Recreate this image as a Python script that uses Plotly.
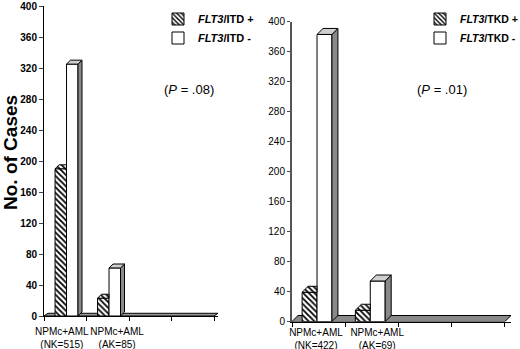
import plotly.graph_objects as go

# ---------------- data ----------------
categories_left = ["NPMc+AML<br>(NK=515)", "NPMc+AML<br>(AK=85)"]
itd_pos = [190, 23]
itd_neg = [325, 62]

categories_right = ["NPMc+AML<br>(NK=422)", "NPMc+AML<br>(AK=69)"]
tkd_pos = [39, 15]
tkd_neg = [383, 54]

y_ticks = [0, 40, 80, 120, 160, 200, 240, 280, 320, 360, 400]
slot_ticks = [0, 1, 2, 3, 4]

FONT = "Liberation Sans, Arial, sans-serif"
GREY_SIDE = "#8a8a8a"
GREY_TOP = "#cfcfcf"

fig = go.Figure()

# per-panel geometry (style constants)
panels = [
    dict(ax="x", ay="y", legend="legend", cats=categories_left,
         pos=itd_pos, neg=itd_neg, names=["<i>FLT3</i>/ITD +", "<i>FLT3</i>/ITD -"],
         off_pos=0.26, off_neg=0.53, w=0.27, dx=0.094, dy=5.1, floor_dy=3.5,
         label_x=[0.42, 1.72], floor_col="#9a9a9a"),
    dict(ax="x2", ay="y2", legend="legend2", cats=categories_right,
         pos=tkd_pos, neg=tkd_neg, names=["<i>FLT3</i>/TKD +", "<i>FLT3</i>/TKD -"],
         off_pos=0.19, off_neg=0.47, w=0.28, dx=0.113, dy=8.0, floor_dy=8.0,
         label_x=[0.45, 1.6], floor_col="#8a8a8a"),
]

shapes = []
for p in panels:
    idx = list(range(len(p["cats"])))
    # front faces of bars
    fig.add_trace(go.Bar(
        x=idx, y=p["pos"], offset=p["off_pos"], width=p["w"], base=0,
        name=p["names"][0], legend=p["legend"], xaxis=p["ax"], yaxis=p["ay"],
        marker=dict(color="white", line=dict(color="black", width=1),
                    pattern=dict(shape="\\", fgcolor="black", bgcolor="white",
                                 size=4, solidity=0.45)),
    ))
    fig.add_trace(go.Bar(
        x=idx, y=p["neg"], offset=p["off_neg"], width=p["w"], base=0,
        name=p["names"][1], legend=p["legend"], xaxis=p["ax"], yaxis=p["ay"],
        marker=dict(color="white", line=dict(color="black", width=1)),
    ))
    dx, dy = p["dx"], p["dy"]
    # 3D top of hatched bars (right part hidden behind white bar)
    for i, v in zip(idx, p["pos"]):
        x0 = i + p["off_pos"]
        x1 = x0 + p["w"]
        fig.add_trace(go.Scatter(
            x=[x0, x0 + dx, x1, x1, x0], y=[v, v + dy, v + dy, v, v],
            mode="lines", fill="toself", line=dict(color="black", width=1),
            fillcolor="white",
            fillpattern=dict(shape="\\", fgcolor="black", bgcolor="white", size=4, solidity=0.45),
            showlegend=False, hoverinfo="skip", xaxis=p["ax"], yaxis=p["ay"]))
    # 3D side + top of white bars
    for i, v in zip(idx, p["neg"]):
        x0 = i + p["off_neg"]
        x1 = x0 + p["w"]
        fig.add_trace(go.Scatter(
            x=[x1, x1 + dx, x1 + dx, x1, x1], y=[0, dy, v + dy, v, 0],
            mode="lines", fill="toself", fillcolor=GREY_SIDE,
            line=dict(color="black", width=1),
            showlegend=False, hoverinfo="skip", xaxis=p["ax"], yaxis=p["ay"]))
        fig.add_trace(go.Scatter(
            x=[x0, x0 + dx, x1 + dx, x1, x0], y=[v, v + dy, v + dy, v, v],
            mode="lines", fill="toself", fillcolor=GREY_TOP,
            line=dict(color="black", width=1),
            showlegend=False, hoverinfo="skip", xaxis=p["ax"], yaxis=p["ay"]))
    # floor
    n = slot_ticks[-1]
    fd = p["floor_dy"]
    shapes.append(dict(
        type="path", xref=p["ax"], yref=p["ay"], layer="below",
        path=f"M0,0 L{n},0 L{n + dx},{fd} L{dx},{fd} Z",
        fillcolor=p["floor_col"], line=dict(color="black", width=1)))

axis_common = dict(showgrid=False, zeroline=False, showline=True, linecolor="black",
                   linewidth=1, fixedrange=True, automargin=False)

fig.update_layout(
    template="none",
    width=520, height=349,
    margin=dict(l=0, r=0, t=0, b=0, autoexpand=False),
    paper_bgcolor="white", plot_bgcolor="white",
    barmode="overlay",
    font=dict(family=FONT, color="black", size=10),
    shapes=shapes,
    xaxis=dict(domain=[44 / 520, 218 / 520], range=[0, 4.094], anchor="y",
               tickmode="array", tickvals=panels[0]["label_x"], ticktext=categories_left,
               ticks="", ticklabelstandoff=6, tickangle=0,
               tickfont=dict(size=10, family=FONT),
               minor=dict(tickmode="array", tickvals=slot_ticks, ticks="outside",
                          ticklen=4, tickcolor="black", showgrid=False),
               **axis_common),
    yaxis=dict(domain=[(349 - 316) / 349, (349 - 6) / 349], range=[0, 400], anchor="x",
               tickmode="array", tickvals=y_ticks, ticks="outside", ticklen=4,
               tickfont=dict(size=10, family=FONT, weight="bold"),
               **axis_common),
    xaxis2=dict(domain=[292 / 520, 511 / 520], range=[0, 4.113], anchor="y2",
                tickmode="array", tickvals=panels[1]["label_x"], ticktext=categories_right,
                ticks="", ticklabelstandoff=1, tickangle=0,
                tickfont=dict(size=10, family=FONT),
                minor=dict(tickmode="array", tickvals=slot_ticks, ticks="outside",
                           ticklen=4, tickcolor="black", showgrid=False),
                **axis_common),
    yaxis2=dict(domain=[(349 - 321.5) / 349, (349 - 21.7) / 349], range=[0, 400], anchor="x2",
                tickmode="array", tickvals=y_ticks, ticks="outside", ticklen=3,
                tickfont=dict(size=10, family=FONT),
                **{**axis_common, "linecolor": "#555555", "linewidth": 2}),
    legend=dict(x=158 / 520, y=1 - 4.5 / 349, xanchor="left", yanchor="top",
                bgcolor="rgba(0,0,0,0)", font=dict(size=11, family=FONT, weight="bold"),
                traceorder="normal", itemclick=False),
    legend2=dict(x=420 / 520, y=1 - 4.5 / 349, xanchor="left", yanchor="top",
                 bgcolor="rgba(0,0,0,0)", font=dict(size=10.5, family=FONT, weight="bold"),
                 traceorder="normal", itemclick=False),
    annotations=[
        dict(text="No. of Cases", textangle=-90, x=10 / 520, y=1 - 153 / 349,
             xref="paper", yref="paper", xanchor="center", yanchor="middle", showarrow=False,
             font=dict(size=19, family=FONT, weight="bold")),
        dict(text="(<i>P</i> = .08)", x=189 / 520, y=1 - 90 / 349,
             xref="paper", yref="paper", xanchor="center", yanchor="middle",
             showarrow=False, font=dict(size=13, family=FONT)),
        dict(text="(<i>P</i> = .01)", x=442 / 520, y=1 - 90 / 349,
             xref="paper", yref="paper", xanchor="center", yanchor="middle",
             showarrow=False, font=dict(size=13, family=FONT)),
    ],
)

fig.write_html("out.html", config={"displayModeBar": False},
               post_script="document.body.style.margin='0';document.body.style.padding='0';")
